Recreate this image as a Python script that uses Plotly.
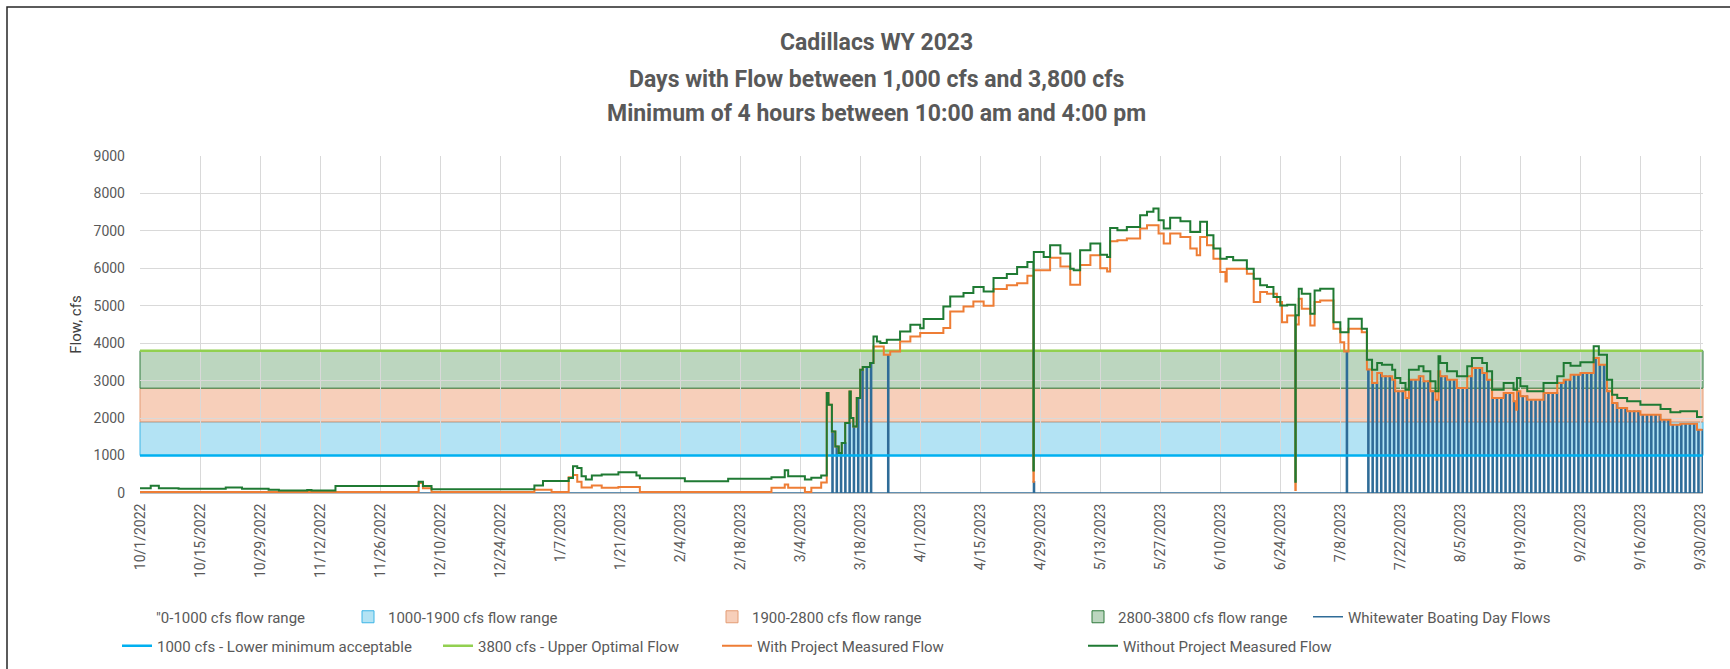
import pandas as pd
import plotly.graph_objects as go

# ---------------- data ----------------
WY_START = pd.Timestamp("2022-10-01")
AXIS_END_DAY = 364.6  # axis runs to mid-day 9/30/2023

# Without Project Measured Flow (change points: day of water year, cfs)
without_day = [0, 2.5, 4.4, 9, 20, 23.8, 30, 32.4, 39, 40, 45.6, 65, 66, 68, 92, 94, 100, 101, 102, 103,
               104, 105.4, 107.7, 111.6, 115.8, 116.6, 127.1, 137.2, 147.3, 150.4, 151.2, 155.1, 156.6,
               158.9, 160.2, 160.6, 161.4, 162.2, 163.0, 163.7, 164.5, 165.5, 165.8, 166.4, 167.2, 168.0,
               168.6, 170.3, 171.1, 171.9, 172.7, 174.2, 177.3, 179.7, 182.0, 182.8, 187.4, 189.0, 192.1,
               194.4, 196.8, 199.1, 202.2, 204.6, 207.0, 208.4, 208.5, 210.8, 212.3, 214.7, 217.0, 217.8,
               219.3, 221.7, 224.0, 225.6, 226.3, 228.0, 230.2, 233.3, 234.9, 236.4, 237.6, 238.8, 240.3,
               242.7, 245.0, 247.3, 248.9, 250.4, 252.0, 253.5, 255.0, 258.2, 259.8, 261.3, 262.9, 264.4,
               266.0, 267.6, 269.5, 269.6, 270.3, 271.0, 273.0, 274.0, 275.3, 278.4, 280.0, 281.9, 285.0,
               286.2, 287.4, 288.6, 289.7, 292.1, 292.8, 294.0, 295.2, 296.0, 298.3, 299.4, 301.0, 302.2,
               302.9, 303.3, 304.9, 307.2, 309.6, 310.7, 313.1, 314.2, 315.4, 318.1, 320.4, 321.2, 322.0,
               323.6, 327.4, 330.6, 332.1, 333.7, 336.0, 339.1, 340.3, 342.2, 343.4, 344.6, 346.9, 350.0,
               354.7, 357.0, 359.3, 363.2, 364.5]
without_cfs = [130, 195, 130, 115, 150, 115, 90, 65, 80, 65, 190, 300, 190, 100, 200, 320, 400, 715, 670, 450,
               360, 470, 495, 555, 470, 395, 315, 380, 420, 610, 450, 360, 405,
               470, 2670, 2360, 1645, 1244, 1068, 1335, 1869, 2713, 2003, 1778, 2536, 3292,
               3364, 3471, 4181, 4048, 4007, 4093, 4315, 4494, 4400, 4646, 4982, 5249, 5340,
               5500, 5380, 5740, 5850, 6036, 6170, 600, 6437, 6300, 6616, 6393, 5990, 5946,
               6482, 6660, 6366, 6304, 7080, 7018, 7107, 7420, 7509, 7600, 7286, 7062, 7348,
               7259, 6973, 7241, 6884, 6527, 6259, 6304, 6214, 5990, 5723, 5545, 5500, 5232,
               5009, 5027, 300, 4750, 5455, 5321, 4786, 5411, 5455, 4563, 4295, 4652, 4384,
               3560, 3293, 3471, 3426, 3293, 3070, 2937, 2760, 3293, 3382, 3249, 2982, 2715,
               3650, 3471, 3249, 3115, 3382, 3605, 3471, 3249, 2760, 2937, 2760, 3070, 2848,
               2715, 2937, 3115, 3471, 3400, 3489, 3916, 3694, 3026, 2626, 2537, 2448, 2359,
               2243, 2154, 2181, 2030, 2030]

# With Project Measured Flow (change points: day of water year, cfs)
with_day = [0, 65, 66, 68, 92, 96, 100, 101, 102, 103, 105.4, 107.7, 111.6, 116.6, 147.3, 150.4, 151.2,
            155.1, 156.6, 158.9, 160.2, 160.6, 161.4, 162.2, 163.0, 163.7, 164.5, 165.5, 165.8, 166.4,
            167.2, 168.0, 168.6, 170.3, 171.1, 173.5, 175.0, 177.3, 179.7, 182.0, 187.4, 189.0, 192.1,
            194.4, 196.8, 199.1, 202.2, 204.6, 207.0, 208.4, 208.5, 212.3, 214.7, 217.0, 219.3, 221.7,
            224.0, 225.6, 226.3, 228.0, 230.2, 233.3, 234.9, 237.6, 238.8, 240.3, 242.7, 245.0, 246.5,
            247.3, 248.9, 250.4, 252.0, 253.2, 253.5, 258.2, 259.8, 261.3, 262.9, 265.2, 266.4, 267.6,
            269.5, 269.6, 270.3, 271.0, 273.0, 274.0, 275.3, 278.4, 280.0, 280.9, 281.9, 285.0, 286.2,
            287.4, 288.6, 289.7, 292.1, 292.8, 295.2, 296.0, 298.3, 299.4, 301.0, 302.2, 302.9, 303.3,
            304.9, 307.2, 309.6, 310.7, 313.1, 314.2, 315.4, 318.1, 320.4, 321.0, 321.2, 322.0, 323.6,
            327.4, 330.6, 332.1, 333.7, 336.0, 339.1, 340.3, 342.2, 343.4, 344.6, 346.9, 350.0, 354.7,
            357.0, 359.3, 363.2, 364.5]
with_cfs = [30, 270, 130, 30, 90, 30, 420, 480, 300, 150, 200, 140, 160, 30, 140, 230, 140,
            30, 140, 280, 2670, 2360, 1645, 1244, 1068, 1335, 1869, 2713, 2003, 1778,
            2536, 3292, 3364, 3471, 3915, 3693, 3781, 4048, 4181, 4270, 4404, 4850, 4982,
            5116, 5000, 5450, 5545, 5600, 5800, 300, 5950, 6280, 6050, 5560, 6090, 6350,
            6000, 5917, 6720, 6750, 6795, 7062, 7152, 6929, 6660, 6929, 6840, 6527, 6350,
            6840, 6616, 6259, 5901, 5650, 5990, 5857, 5098, 5366, 5321, 5098, 4563, 4741,
            80, 4500, 5187, 4920, 4473, 5098, 5143, 4384, 4027, 3776, 4384, 4295, 3300,
            2937, 3204, 3115, 3026, 2715, 2537, 3026, 3115, 2982, 2715, 2492, 3249, 3115,
            3026, 2804, 3115, 3338, 3204, 3026, 2537, 2670, 2448, 2225, 2715, 2581, 2492,
            2670, 2937, 3026, 3160, 3204, 3605, 3426, 2715, 2403, 2270, 2181, 2092, 1958,
            1825, 1850, 1691, 1691]

# Whitewater boating days (day of water year); flow window 10:00 am - 4:00 pm
boating_day = [161, 162, 163, 164, 165, 166, 167, 168, 169, 170, 174, 208, 281,
               286, 287, 288, 289, 290, 291, 292, 293, 294, 295, 296, 297, 298, 299, 300,
               301, 302, 303, 304, 305, 306, 307, 308, 309, 310, 311, 312, 313, 314, 315,
               316, 317, 318, 319, 320, 321, 322, 323, 324, 325, 326, 327, 328, 329, 330,
               331, 332, 333, 334, 335, 336, 337, 338, 339, 340, 341, 342, 343, 344, 345,
               346, 347, 348, 349, 350, 351, 352, 353, 354, 355, 356, 357, 358, 359, 360,
               361, 362, 363, 364]
boating_start_hour = 10
boating_end_hour = 16

# Flow ranges
band_names = ['"0-1000 cfs flow range', "1000-1900 cfs flow range",
              "1900-2800 cfs flow range", "2800-3800 cfs flow range"]
band_low = [0, 1000, 1900, 2800]
band_high = [1000, 1900, 2800, 3800]

# Reference flow lines
level_names = ["1000 cfs - Lower minimum acceptable", "3800 cfs - Upper Optimal Flow"]
level_cfs = [1000, 3800]

title_lines = ["Cadillacs WY 2023",
               "Days with Flow between 1,000 cfs and 3,800 cfs",
               "Minimum of 4 hours between 10:00 am and 4:00 pm"]

# ---------------- styles ----------------
band_fill = ["rgba(0,0,0,0)", "#B3E3F4", "#F7CFBA", "#BCD6BF"]
band_edge = ["rgba(0,0,0,0)", "#3DB5E6", "#E39C74", "#2F7A3C"]
level_color = ["#00B0F0", "#92D050"]
WITH_COLOR = "#EE7D35"
WITHOUT_COLOR = "#1F7A33"
BOAT_COLOR = "#2F6C98"
GRID = "#D9D9D9"
TXT = "#595959"
FONT = "Roboto"

W, H = 1730, 669
L, R, T, B = 140, 27, 156, 176
PW, PH = W - L - R, H - T - B


def day_to_time(days):
    return [WY_START + pd.Timedelta(days=d) for d in days]


axis_end = WY_START + pd.Timedelta(days=AXIS_END_DAY)
with_series = pd.Series(with_cfs, index=day_to_time(with_day))

# whitewater boating series: zero except during the boating window on boating days
bx, by = [WY_START], [0]
for d in boating_day:
    t0 = WY_START + pd.Timedelta(days=d, hours=boating_start_hour)
    t1 = WY_START + pd.Timedelta(days=d, hours=boating_end_hour)
    v = float(with_series.asof(t0))
    bx += [t0, t0, t1, t1]
    by += [0, v, v, 0]
bx.append(axis_end)
by.append(0)

legend_ids = ["legend", "legend2", "legend3", "legend4", "legend5",
              "legend6", "legend7", "legend8", "legend9"]
# legend anchor positions in pixels (left, center-y)
legend_px = [(116, 617), (348, 617), (712, 617), (1078, 617), (1308, 617),
             (117, 646), (438, 646), (717, 646), (1083, 646)]

fig = go.Figure()

for i in range(len(band_names)):
    fig.add_shape(type="rect", xref="x domain", yref="y", x0=0, x1=1,
                  y0=band_low[i], y1=band_high[i], fillcolor=band_fill[i],
                  line=dict(color=band_edge[i], width=1), layer="below",
                  name=band_names[i], showlegend=True, legend=legend_ids[i])

fig.add_trace(go.Scatter(x=bx, y=by, mode="lines", name="Whitewater Boating Day Flows",
                         line=dict(color=BOAT_COLOR, width=1.5), legend=legend_ids[4],
                         hoverinfo="skip"))

for i in range(len(level_names)):
    fig.add_trace(go.Scatter(x=[WY_START, WY_START + pd.Timedelta(days=364.5)],
                             y=[level_cfs[i], level_cfs[i]], mode="lines",
                             name=level_names[i], line=dict(color=level_color[i], width=2.5),
                             legend=legend_ids[5 + i]))

fig.add_trace(go.Scatter(x=day_to_time(with_day), y=with_cfs, mode="lines",
                         name="With Project Measured Flow", line_shape="hv",
                         line=dict(color=WITH_COLOR, width=2), legend=legend_ids[7]))
fig.add_trace(go.Scatter(x=day_to_time(without_day), y=without_cfs, mode="lines",
                         name="Without Project Measured Flow", line_shape="hv",
                         line=dict(color=WITHOUT_COLOR, width=2), legend=legend_ids[8]))

# titles
title_y_px = [42, 79, 114]
for txt, py in zip(title_lines, title_y_px):
    fig.add_annotation(text="<b>%s</b>" % txt, xref="paper", yref="paper",
                       x=(876 - L) / PW, y=(H - B - py) / PH, showarrow=False,
                       xanchor="center", yanchor="middle",
                       font=dict(family=FONT, size=23, color=TXT))

# chart frame
fig.add_shape(type="rect", xref="paper", yref="paper",
              x0=(7 - L) / PW, x1=(W + 20 - L) / PW, y0=-(B + 20) / PH, y1=(H - B - 7) / PH,
              line=dict(color="#262626", width=1.5), fillcolor="rgba(0,0,0,0)", layer="above")

legend_layout = {}
for lid, (px, py) in zip(legend_ids, legend_px):
    legend_layout[lid] = dict(orientation="h", xref="container", yref="container",
                              x=px / W, y=1 - py / H, xanchor="left", yanchor="middle",
                              bgcolor="rgba(0,0,0,0)", borderwidth=0, itemwidth=30,
                              font=dict(family=FONT, size=15, color=TXT))

fig.update_layout(
    width=W, height=H, autosize=False,
    margin=dict(l=L, r=R, t=T, b=B, pad=0),
    paper_bgcolor="white", plot_bgcolor="white",
    font=dict(family=FONT, color=TXT),
    showlegend=True,
    **legend_layout,
)

fig.update_xaxes(type="date", range=[WY_START, axis_end], tick0=WY_START,
                 dtick=14 * 86400000, tickformat="%-m/%-d/%Y", tickangle=-90,
                 showgrid=True, gridcolor=GRID, gridwidth=1, zeroline=False,
                 showline=True, linecolor="#BFBFBF", ticks="",
                 tickfont=dict(family=FONT, size=14, color=TXT), ticklabelstandoff=4)
fig.update_yaxes(range=[0, 9000], dtick=1000, showgrid=True, gridcolor=GRID, gridwidth=1,
                 zeroline=False, showline=False, ticks="",
                 tickfont=dict(family=FONT, size=14, color=TXT), ticklabelstandoff=14,
                 title=dict(text="Flow, cfs", standoff=8,
                            font=dict(family=FONT, size=15, color="#404040")))

fig.write_html("out.html", include_plotlyjs=True, full_html=True,
               config={"displayModeBar": False},
               post_script="document.body.style.margin='0';document.body.style.overflow='hidden';")
